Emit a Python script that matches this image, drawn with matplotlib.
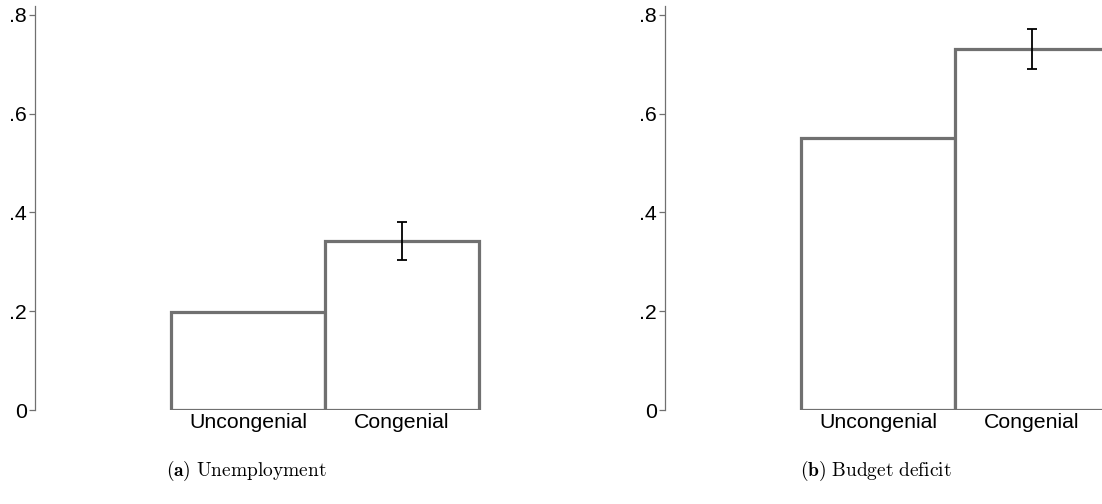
import matplotlib.pyplot as plt

plt.rcParams['font.family'] = ['Liberation Sans', 'DejaVu Sans']
plt.rcParams['mathtext.fontset'] = 'cm'

# share of respondents, by congeniality of the information
groups = ["Uncongenial", "Congenial"]
unemp_mean = [0.198, 0.342]
unemp_lo = [None, 0.304]
unemp_hi = [None, 0.381]
deficit_mean = [0.551, 0.731]
deficit_lo = [None, 0.691]
deficit_hi = [None, 0.772]

yticks = [0, 0.2, 0.4, 0.6, 0.8]
ylabels = ["0", ".2", ".4", ".6", ".8"]
captions = [r"$\mathbf{(a)}\ \mathrm{Unemployment}$",
            r"$\mathbf{(b)}\ \mathrm{Budget\ deficit}$"]

W, H = 1102, 504
fig = plt.figure(figsize=(W / 100, H / 100), dpi=100)

bar_col = '#707070'
pos = [1, 2]

panels = [(unemp_mean, unemp_lo, unemp_hi, 35), (deficit_mean, deficit_lo, deficit_hi, 665)]
for i, (mean, lo, hi, x0) in enumerate(panels):
    ax = fig.add_axes([x0 / W, 94 / H, 447 / W, 404 / H])
    ax.bar(pos, mean, width=1.0, color='white', edgecolor=bar_col, linewidth=2.3)
    for p, m, l, h in zip(pos, mean, lo, hi):
        if l is not None:
            ax.errorbar(p, m, yerr=[[m - l], [h - m]], fmt='none', ecolor='black',
                        elinewidth=1.3, capsize=3.5, capthick=1.3)
    ax.set_xlim(-0.383, 2.52)
    ax.set_ylim(0, 0.818)
    ax.set_yticks(yticks)
    ax.set_yticklabels(ylabels)
    ax.set_xticks(pos)
    ax.set_xticklabels(groups)
    ax.tick_params(axis='y', direction='out', length=4, width=0.9, color=bar_col,
                   labelsize=15.3, pad=2)
    ax.tick_params(axis='x', length=0, labelsize=15.3, pad=2)
    for s in ['top', 'right', 'bottom']:
        ax.spines[s].set_visible(False)
    ax.spines['left'].set_color(bar_col)
    ax.spines['left'].set_linewidth(0.9)
    ax.patch.set_visible(False)

    fig.text((x0 + 211) / W, 1 - 471 / H, captions[i], ha='center', va='center', fontsize=14)

plt.savefig('out.png', dpi=100)
